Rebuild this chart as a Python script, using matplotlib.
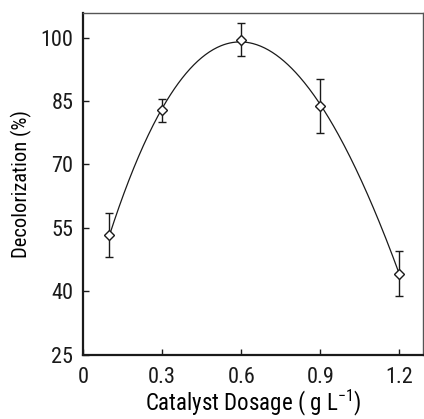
import numpy as np
import matplotlib
matplotlib.use("Agg")
import matplotlib.pyplot as plt

dosage = [0.1, 0.3, 0.6, 0.9, 1.2]
decol = [53.4, 82.8, 99.5, 83.8, 44.1]
err = [5.2, 2.7, 3.9, 6.3, 5.3]
xticks = [0, 0.3, 0.6, 0.9, 1.2]
xticklabels = ["0", "0.3", "0.6", "0.9", "1.2"]
yticks = [25, 40, 55, 70, 85, 100]

plt.rcParams['font.family'] = ['Roboto Condensed', 'Archivo Narrow', 'Liberation Sans', 'DejaVu Sans']
plt.rcParams['mathtext.fontset'] = 'custom'
plt.rcParams['mathtext.rm'] = 'Roboto Condensed'

fig = plt.figure(figsize=(4.24, 4.19), dpi=100)
ax = fig.add_axes([0.196, 0.1535, 0.802, 0.8155])

coef = np.polyfit(dosage, decol, 3)
xs = np.linspace(min(dosage), max(dosage), 300)
ax.plot(xs, np.polyval(coef, xs), color='#1a1a1a', lw=0.9)
ax.errorbar(dosage, decol, yerr=err, fmt='D', ms=5.6, mfc='white', mec='#1a1a1a',
            mew=1.0, ecolor='#1a1a1a', elinewidth=1.0, capsize=3.2, capthick=1.0)

ax.set_xlim(0, 1.29)
ax.set_ylim(25, 105.8)
ax.set_xticks(xticks)
ax.set_xticklabels(xticklabels)
ax.set_yticks(yticks)
ax.tick_params(direction='in', length=4.5, width=1.0, labelsize=16, colors='#1a1a1a')
ax.tick_params(axis='x', pad=9)
ax.tick_params(axis='y', pad=7)
for s in ['left', 'bottom']:
    ax.spines[s].set_linewidth(1.6)
    ax.spines[s].set_color('#1a1a1a')
for s in ['top', 'right']:
    ax.spines[s].set_linewidth(1.0)
    ax.spines[s].set_color('#555555')
ax.set_xlabel('Catalyst Dosage ( g L$^{-1}$)', fontsize=16.5, labelpad=0)
ax.set_ylabel('Decolorization (%)', fontsize=14.8, labelpad=6)

fig.savefig('out.png', dpi=100)
